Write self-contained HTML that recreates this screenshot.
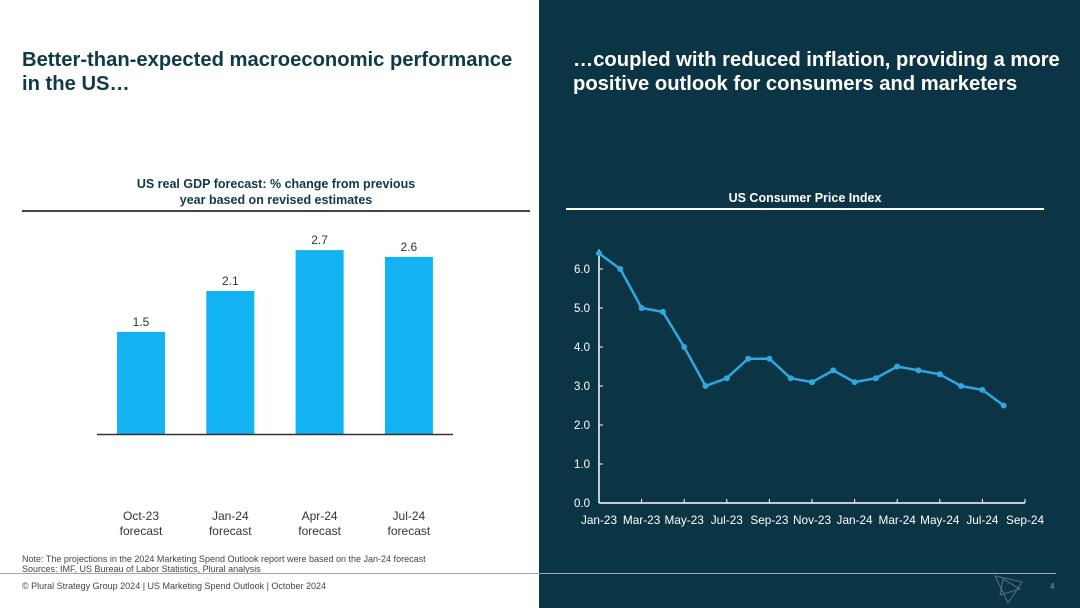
<!DOCTYPE html>
<html><head><meta charset="utf-8"><style>
body{margin:0;width:1080px;height:608px;position:relative;overflow:hidden;background:#fff;font-family:"Liberation Sans",Arial,sans-serif}
.abs{position:absolute}
</style></head><body>
<div class="abs" style="left:0;top:0;width:539px;height:608px;background:#fff"></div>
<div class="abs" style="left:539px;top:0;width:541px;height:608px;background:#0b3445"></div>
<div class="abs" style="left:22px;top:48px;font-size:20.2px;font-weight:bold;color:#0e3a48;line-height:24px;white-space:nowrap">Better-than-expected macroeconomic performance<br>in the US…</div>
<div class="abs" style="left:573px;top:48px;font-size:20.2px;font-weight:bold;color:#fff;line-height:24px;white-space:nowrap">…coupled with reduced inflation, providing a more<br>positive outlook for consumers and marketers</div>
<div class="abs" style="left:22px;top:176px;width:508px;text-align:center;font-size:12.5px;font-weight:bold;color:#0e3a48;line-height:16px">US real GDP forecast: % change from previous<br>year based on revised estimates</div>
<div class="abs" style="left:22px;top:210px;width:508px;height:2px;background:#3a4a50"></div>
<div class="abs" style="left:566px;top:191px;width:478px;text-align:center;font-size:12.5px;font-weight:bold;color:#fff">US Consumer Price Index</div>
<div class="abs" style="left:566px;top:208px;width:478px;height:2px;background:#fff"></div>
<svg class="abs" style="left:0;top:0" width="1080" height="608" id="svg"></svg>
<div class="abs" style="left:22px;top:554px;font-size:9px;color:#444;line-height:10px;white-space:nowrap">Note: The projections in the 2024 Marketing Spend Outlook report were based on the Jan-24 forecast<br>Sources: IMF, US Bureau of Labor Statistics, Plural analysis</div>
<div class="abs" style="left:0;top:573px;width:1056px;height:1px;background:#9ab"></div>
<div class="abs" style="left:22px;top:581px;font-size:9px;color:#444;white-space:nowrap">© Plural Strategy Group 2024 | US Marketing Spend Outlook | October 2024</div>
<div class="abs" style="left:1050px;top:582px;font-size:8px;color:#6ab">4</div>
<svg class="abs" style="left:992px;top:573px" width="34" height="32"><polygon points="3,3 30,9 16,30" fill="none" stroke="#4d7580" stroke-width="1"/><polygon points="8,22 28,16 11,6" fill="none" stroke="#4d7580" stroke-width="1"/></svg>
<script>
const gdpCategories=["Oct-23\nforecast","Jan-24\nforecast","Apr-24\nforecast","Jul-24\nforecast"];
const gdpValues=[1.5,2.1,2.7,2.6];
const cpiMonths=["Jan-23","Feb-23","Mar-23","Apr-23","May-23","Jun-23","Jul-23","Aug-23","Sep-23","Oct-23","Nov-23","Dec-23","Jan-24","Feb-24","Mar-24","Apr-24","May-24","Jun-24","Jul-24","Aug-24"];
const cpiValues=[6.4,6.0,5.0,4.9,4.0,3.0,3.2,3.7,3.7,3.2,3.1,3.4,3.1,3.2,3.5,3.4,3.3,3.0,2.9,2.5];
const cpiTickLabels=["Jan-23","Mar-23","May-23","Jul-23","Sep-23","Nov-23","Jan-24","Mar-24","May-24","Jul-24","Sep-24"];
const cpiYTicks=[0,1,2,3,4,5,6];
const NS="http://www.w3.org/2000/svg",svg=document.getElementById('svg');
function mk(t,a,txt){const e=document.createElementNS(NS,t);for(const k in a)e.setAttribute(k,a[k]);if(txt!=null)e.textContent=txt;svg.appendChild(e);return e;}
const gx=i=>141+i*89.3, gy=v=>434-v*68.1;
gdpValues.forEach((v,i)=>{
 let r=mk('rect',{x:gx(i)-24,y:gy(v),width:48,height:434-gy(v),fill:'#12b3f0'});
 
 
 let t=mk('text',{x:gx(i),y:gy(v)-6,'text-anchor':'middle','font-size':12,fill:'#333'},v.toFixed(1));
 
 
 gdpCategories[i].split('\n').forEach((s,j)=>{
  let c=mk('text',{x:gx(i),y:520+j*15,'text-anchor':'middle','font-size':12,fill:'#333'},s);
  
  
 });
});
let ba=mk('line',{x1:97,x2:453,y1:434.5,y2:434.5,stroke:'#333','stroke-width':1.5});


const cx=i=>599+i*21.3, cy=v=>503-v*39;
let ya=mk('line',{x1:599,x2:599,y1:cy(6.5),y2:503,stroke:'#fff','stroke-width':1.5});


let xa=mk('line',{x1:599,x2:1025,y1:503,y2:503,stroke:'#fff','stroke-width':1.5});


cpiYTicks.forEach(v=>{
 mk('line',{x1:599,x2:603,y1:cy(v),y2:cy(v),stroke:'#fff'});
 let t=mk('text',{x:590,y:cy(v)+4,'text-anchor':'end','font-size':11.5,fill:'#fff'},v.toFixed(1));
 
 
});
cpiTickLabels.forEach((s,k)=>{
 const x=cx(k*2);
 mk('line',{x1:x,x2:x,y1:499,y2:503,stroke:'#fff'});
 let t=mk('text',{x:x,y:524,'text-anchor':'middle','font-size':11.8,fill:'#fff'},s);
 
 
});
let p=mk('polyline',{points:cpiValues.map((v,i)=>cx(i)+','+cy(v)).join(' '),fill:'none',stroke:'#2fa8e0','stroke-width':2.5});


cpiValues.forEach((v,i)=>{
 let c=mk('circle',{cx:cx(i),cy:cy(v),r:3,fill:'#2fa8e0'});
 
 
});
</script>
</body></html>
